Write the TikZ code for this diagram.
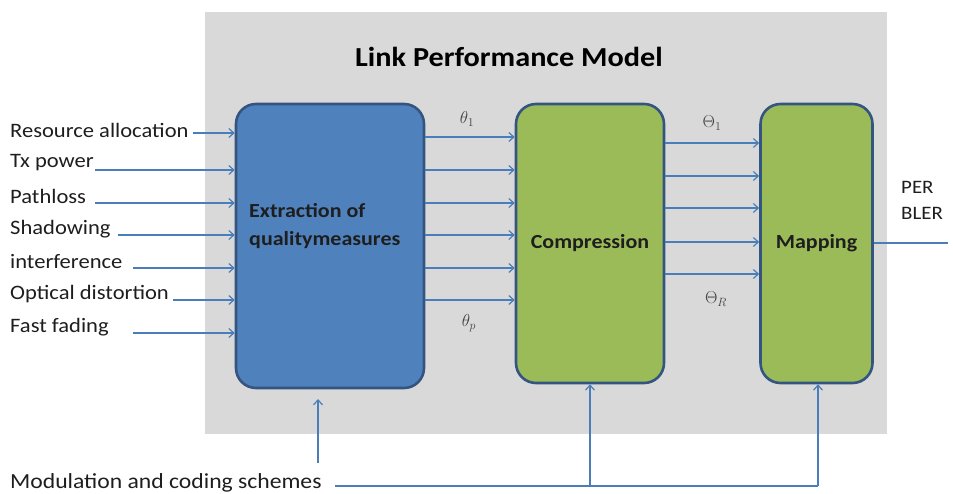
\documentclass[tikz,border=0pt]{standalone}
\usepackage{fontspec}
\setmainfont{Carlito}[FakeStretch=1.1]
\usetikzlibrary{arrows.meta}

\definecolor{panelgray}{HTML}{D9D9D9}
\definecolor{boxblue}{HTML}{4F81BD}
\definecolor{boxgreen}{HTML}{9BBB59}
\definecolor{edgeblue}{HTML}{34557F}
\definecolor{linkblue}{HTML}{4A7EBB}
\definecolor{inktext}{HTML}{1E1E1E}

\begin{document}
\begin{tikzpicture}[x=1pt,y=-1pt,
  block/.style={draw=edgeblue, line width=2.6pt, rounded corners=20pt, inner sep=0pt},
  bluebox/.style={block, fill=boxblue},
  greenbox/.style={block, fill=boxgreen, font=\fontsize{20}{24}\selectfont\bfseries, text=inktext},
  link/.style={draw=linkblue, line width=1.3pt},
  arr/.style={link, -{Straight Barb[length=5pt,width=9pt,line width=1.2pt]}},
  inlabel/.style={anchor=west, inner sep=0pt, text=inktext, font=\fontsize{20.5}{24}\selectfont},
  sym/.style={inner sep=0pt, text=inktext!85, font=\fontsize{18}{18}\selectfont},
]
\useasboundingbox (0,0) rectangle (953,494);
\fill[white] (0,0) rectangle (953,494);

% grey model panel
\fill[panelgray] (205,12) rectangle (887,434);
\node[inner sep=0pt, text=black, font=\fontsize{27.5}{30}\selectfont\bfseries] (title) at (509,57) {Link Performance Model};

% processing blocks
\node[bluebox, minimum width=188pt, minimum height=284pt] (extract) at (330,246) {};
\node[inner sep=0pt, anchor=west, align=left, text=inktext,
      font=\fontsize{20}{28}\selectfont\bfseries] (extractlabel) at (249,226) {Extraction of\\qualitymeasures};
\node[greenbox, minimum width=148pt, minimum height=279pt] (compress) at (590,243.5) {Compression};
\node[greenbox, minimum width=112pt, minimum height=279pt] (mapping) at (816.5,243.5) {Mapping};

% channel and system inputs
\foreach \n/\t/\ty/\ly/\lx in {
    res/Resource allocation/130/133/193,
    txp/Tx power/163/170/95,
    pl/Pathloss/196/203/95,
    sh/Shadowing/229/235/118,
    itf/interference/262/268/133,
    opt/Optical distortion/294/300/173,
    ff/Fast fading/327/333/133} {
  \node[inlabel] (\n) at (10,\ty) {\t};
  \coordinate (\n-s) at (\lx,\ly);
  \draw[arr] (\n-s) -- (\n-s -| extract.west);
}
\draw[linkblue, line width=2.6pt] (res-s) -- ++(37,0);
\draw[linkblue, line width=2.6pt] (opt-s) -- ++(15,0);

% quality measures theta_1 .. theta_p
\foreach \y in {137,170,203,235,268,300}
  \draw[arr] (extract.east |- 0,\y) -- (compress.west |- 0,\y);
\draw[linkblue, line width=2.4pt] (extract.east |- 0,300) -- ++(24,0);
\node[sym] (thA) at (467,119) {$\theta_1$};
\node[sym] (thP) at (469,323) {$\theta_p$};

% compressed measures Theta_1 .. Theta_R
\foreach \y in {143,176,208,242,274}
  \draw[arr] (compress.east |- 0,\y) -- (mapping.west |- 0,\y);
\draw[linkblue, line width=2.2pt] (compress.east |- 0,143) -- ++(80,0);
\node[sym] (ThA) at (712,123) {$\Theta_1$};
\node[sym] (ThR) at (716,299) {$\Theta_R$};

% output
\coordinate (outend) at (948,243);
\draw[link] (mapping.east |- outend) -- (outend);
\node[inner sep=0pt, anchor=west, align=left, text=inktext,
      font=\fontsize{19}{26}\selectfont] (per) at (901,200) {PER\\BLER};

% modulation and coding schemes feed
\node[inlabel, font=\fontsize{21.5}{24}\selectfont] (mcs) at (10,483) {Modulation and coding schemes};
\coordinate (busL) at (335,486);
\coordinate (busM) at (590,486);
\coordinate (busR) at (818,486);
\draw[link] (busL) -- (busR);
\draw[arr, line width=1.7pt] (busM) -- (busM |- compress.south);
\draw[arr] (busR) -- (busR |- mapping.south);
\coordinate (lowA) at (318,463);
\coordinate (lowtip) at (318,399);
\draw[arr, line width=1.7pt] (lowA) -- (lowtip);
\end{tikzpicture}
\end{document}
